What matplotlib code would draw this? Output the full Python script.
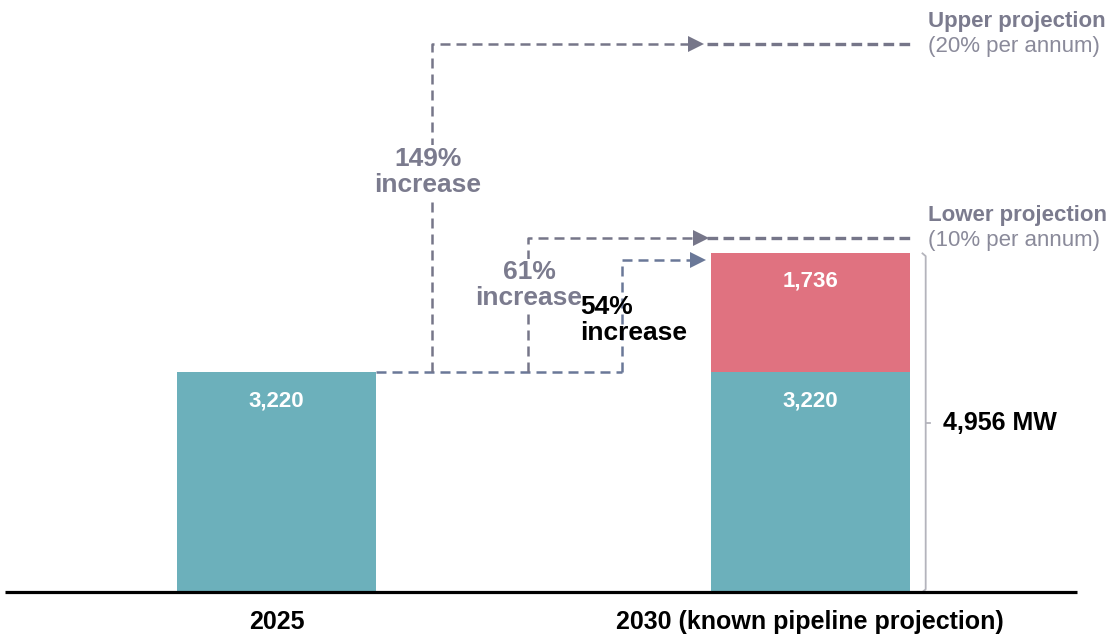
import matplotlib.pyplot as plt

plt.rcParams['font.family'] = ['Liberation Sans', 'DejaVu Sans']

# data
categories = ['2025', '2030 (known pipeline projection)']
installed = [3220, 3220]
pipeline = [0, 1736]
total_label = '4,956 MW'
proj_levels = [8018, 5184]          # upper (149%) and lower (61%) projections
proj_names = ['Upper projection', 'Lower projection']
proj_rates = ['(20% per annum)', '(10% per annum)']
increase_labels = ['149%\nincrease', '61%\nincrease', '54%\nincrease']
pipeline_arrow_level = 4860

teal = '#6cb0bb'
red = '#e07280'
grey = '#767689'
blue_grey = '#6a7898'
txt_grey = '#7b7b8e'

fig = plt.figure(figsize=(11.2, 6.37), dpi=100)
ax = fig.add_axes([0, 0, 1, 1])
ax.set_xlim(-0.518, 1.580)
ax.set_ylim(-659, 8665)
ax.axis('off')

x = [0, 1]
w = 0.373
ax.bar(x, installed, width=w, color=teal, zorder=2)
ax.bar(x, pipeline, bottom=installed, width=w, color=red, zorder=2)

# valeurs dans les barres
for xi, v in zip(x, installed):
    ax.annotate(f'{v:,}', (xi, v), xytext=(0, -21), textcoords='offset points',
                ha='center', va='center', color='white', fontsize=16, fontweight='bold')
top = installed[1] + pipeline[1]
ax.annotate(f'{pipeline[1]:,}', (1, top), xytext=(0, -20), textcoords='offset points',
            ha='center', va='center', color='white', fontsize=16, fontweight='bold')

# ligne de base
ax.plot([-0.508, 1.499], [0, 0], color='black', lw=2.3, zorder=3, solid_capstyle='butt')
for xi, c in zip(x, categories):
    ax.text(xi, -440, c, ha='center', va='center', fontsize=18, fontweight='bold')

dash = (0, (4, 2.4))
lw = 1.8
base = installed[0]
right_edge = w / 2

# connecteurs
ax.plot([right_edge, 0.647], [base, base], color=blue_grey, lw=lw, ls=dash)
# 149%
ax.plot([0.291, 0.291, 0.785], [base, proj_levels[0], proj_levels[0]], color=grey, lw=lw, ls=dash)
# 61%
ax.plot([0.471, 0.471, 0.795], [base, proj_levels[1], proj_levels[1]], color=grey, lw=lw, ls=dash)
# 54%
ax.plot([0.647, 0.647, 0.79], [base, pipeline_arrow_level, pipeline_arrow_level],
        color=blue_grey, lw=lw, ls=dash)

# têtes de flèches
ax.plot(0.785, proj_levels[0], marker='>', ms=12, color=grey, mew=0)
ax.plot(0.795, proj_levels[1], marker='>', ms=12, color=grey, mew=0)
ax.plot(0.79, pipeline_arrow_level, marker='>', ms=12, color=blue_grey, mew=0)

# lignes de projection
for lvl, name, rate in zip(proj_levels, proj_names, proj_rates):
    ax.plot([0.807, 1.192], [lvl, lvl], color=grey, lw=2.4, ls=(0, (3.2, 1.6)))
    ax.text(1.220, lvl + 330, name, ha='left', va='center', color=txt_grey,
            fontsize=16, fontweight='bold')
    ax.text(1.220, lvl - 40, rate, ha='left', va='center', color='#8a8a9a', fontsize=16)

# étiquettes d'augmentation
bbox = dict(facecolor='white', edgecolor='none', pad=1)
ax.text(0.283, 6150, increase_labels[0], ha='center', va='center', color=txt_grey,
        fontsize=19, fontweight='bold', linespacing=1.12, bbox=bbox, zorder=4)
ax.text(0.473, 4493, increase_labels[1], ha='center', va='center', color=txt_grey,
        fontsize=19, fontweight='bold', linespacing=1.12, bbox=bbox, zorder=4)
ax.text(0.568, 3981, increase_labels[2], ha='left', va='center', color='black',
        fontsize=19, fontweight='bold', linespacing=1.12, multialignment='left', zorder=4)

# accolade du total
bx = 1.216
ax.plot([bx - 0.006, bx, bx, bx - 0.006], [top, top - 40, 40, 0], color='#b4b4bc', lw=1.3)
ax.plot([bx, bx + 0.008], [top / 2, top / 2], color='#b4b4bc', lw=1.3)
ax.text(1.248, top / 2, total_label, ha='left', va='center', fontsize=18, fontweight='bold')

fig.savefig('out.png', dpi=100)
